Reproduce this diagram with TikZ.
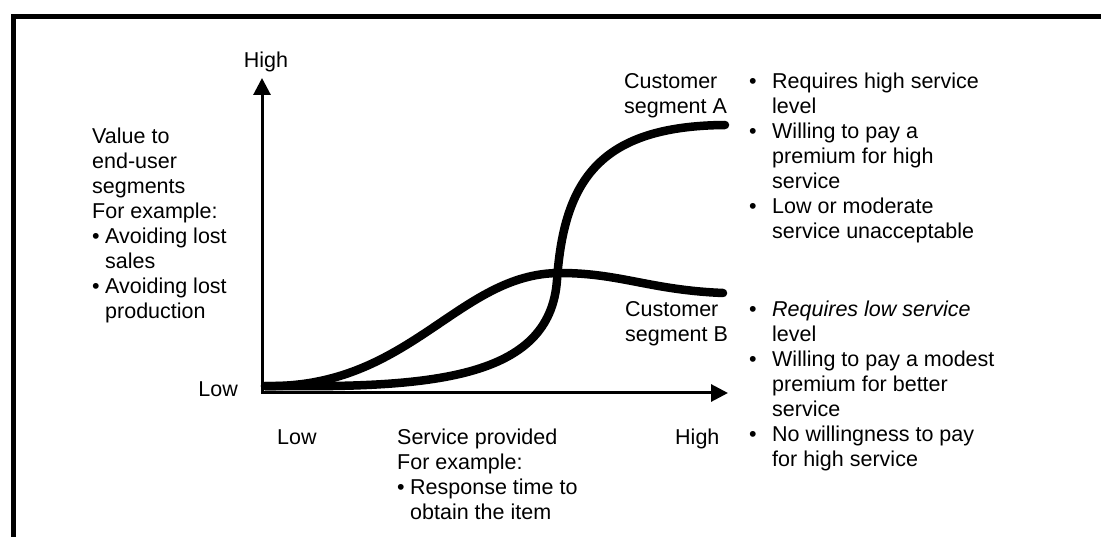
\documentclass[tikz,border=0pt]{standalone}
\usepackage{fontspec}
\setmainfont{Liberation Sans}
\usetikzlibrary{arrows.meta}
\newcommand\fl{\rule{0pt}{17pt}}
\newcommand\bu{\makebox[13pt][l]{\textbullet}}
\newcommand\rb{\llap{\textbullet\hspace{15.5pt}}}
\begin{document}
\begin{tikzpicture}[x=1pt,y=-1pt,
  txt/.style={inner sep=0pt, align=left, font=\fontsize{21.5}{25}\selectfont, anchor=north west},
  axis/.style={line width=3pt, line join=miter, {Triangle[length=17pt,width=17pt]}-{Triangle[length=17pt,width=17pt]}},
  curve/.style={line width=8.5pt, line cap=round, line join=round},
  frame/.style={line width=5pt}]
\useasboundingbox (0,0) rectangle (1101,537);
% frame
\draw[frame] (13,545) -- (13,16.5) -- (1110,16.5);
% axes
\coordinate (O) at (262,393);
\coordinate (ytip) at (262,78);
\coordinate (xtip) at (728,393);
\draw[axis] (ytip) -- (O) -- (xtip);
% curves
\coordinate (s) at (265,386);
\coordinate (cA) at (557,280);
\coordinate (eA) at (725,125);
\coordinate (pB) at (560,273);
\coordinate (eB) at (723,293);
\draw[curve] (s) .. controls (430,388) and (550,380) .. (cA)
                 .. controls (564,180) and (600,126) .. (eA);
\draw[curve] (s) .. controls (410,389) and (458,273) .. (pB)
                 .. controls (620,273) and (650,290) .. (eB);
% texts
\node[txt, anchor=base] (yhigh) at (266,68) {High};
\node[txt] (ylab) at (92,126) {\fl Value to\\end-user\\segments\\For example:\\\bu Avoiding lost\\\hspace*{13pt}sales\\\bu Avoiding lost\\\hspace*{13pt}production};
\node[txt, anchor=base east] (ylow) at (238,397) {Low};
\node[txt, anchor=base west] (xlow) at (277,444) {Low};
\node[txt] (xlab) at (397,427) {\fl Service provided\\For example:\\\bu Response time to\\\hspace*{13pt}obtain the item};
\node[txt, anchor=base west] (xhigh) at (675,444) {High};
\node[txt] (segA) at (624,71) {\fl Customer\\segment A};
\node[txt] (bulA) at (772,71) {\fl\rb Requires high service\\level\\\rb Willing to pay a\\premium for high\\service\\\rb Low or moderate\\service unacceptable};
\node[txt] (segB) at (625,299) {\fl Customer\\segment B};
\node[txt] (bulB) at (772,299) {\fl\rb\textit{Requires low service}\\level\\\rb Willing to pay a modest\\premium for better\\service\\\rb No willingness to pay\\for high service};
\end{tikzpicture}
\end{document}
